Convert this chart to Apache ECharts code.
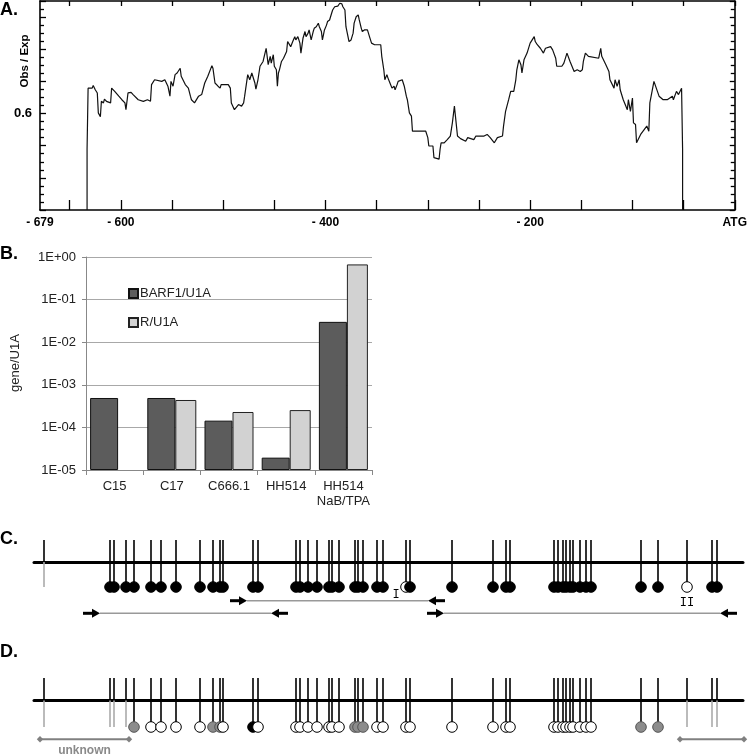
<!DOCTYPE html>
<html>
<head>
<meta charset="utf-8">
<script src="https://cdn.jsdelivr.net/npm/echarts@6/dist/echarts.min.js"></script>
<style>
html,body{margin:0;padding:0;background:#fff;}
#chart{width:750px;height:754px;}
</style>
</head>
<body>
<div id="chart"></div>
<script>
// ---------- Panel A: CpG Obs/Exp profile (position relative to ATG, value) ----------
const obsExpProfile = [
[-633,0.30],[-633,0.489],[-632,0.489],[-632,0.679],[-628,0.679],[-627,0.687],[-625,0.674],[-623,0.664],
[-622,0.602],[-620,0.590],[-619,0.638],[-617,0.633],[-616,0.645],[-614,0.638],[-610,0.633],[-609,0.679],
[-606,0.669],[-602,0.654],[-599,0.643],[-596,0.633],[-595,0.612],[-593,0.664],[-590,0.666],[-588,0.659],
[-583,0.643],[-578,0.638],[-574,0.643],[-571,0.638],[-570,0.690],[-567,0.705],[-560,0.700],[-557,0.705],
[-554,0.685],[-552,0.654],[-551,0.700],[-549,0.685],[-547,0.721],[-545,0.726],[-542,0.741],[-541,0.716],
[-537,0.690],[-534,0.679],[-532,0.654],[-531,0.643],[-528,0.633],[-524,0.654],[-521,0.659],[-518,0.695],
[-515,0.716],[-511,0.749],[-510,0.741],[-508,0.695],[-505,0.685],[-503,0.679],[-502,0.690],[-495,0.690],
[-493,0.679],[-492,0.633],[-489,0.612],[-485,0.628],[-482,0.623],[-480,0.633],[-479,0.654],[-476,0.721],
[-474,0.705],[-472,0.726],[-471,0.731],[-469,0.695],[-468,0.676],[-466,0.705],[-464,0.747],[-461,0.762],
[-460,0.757],[-458,0.803],[-456,0.752],[-454,0.778],[-453,0.757],[-451,0.783],[-450,0.747],[-448,0.736],
[-447,0.685],[-446,0.726],[-445,0.736],[-443,0.762],[-441,0.772],[-438,0.793],[-437,0.824],[-434,0.808],
[-432,0.824],[-430,0.839],[-429,0.829],[-427,0.839],[-425,0.819],[-424,0.788],[-422,0.834],[-420,0.855],
[-419,0.839],[-417,0.850],[-416,0.860],[-414,0.829],[-412,0.855],[-411,0.865],[-409,0.870],[-407,0.881],
[-406,0.870],[-404,0.855],[-403,0.829],[-401,0.860],[-399,0.875],[-398,0.886],[-396,0.891],[-394,0.912],
[-393,0.922],[-391,0.932],[-388,0.934],[-386,0.943],[-384,0.941],[-383,0.932],[-381,0.922],[-380,0.870],
[-378,0.839],[-377,0.824],[-375,0.829],[-373,0.850],[-372,0.881],[-370,0.901],[-368,0.907],[-367,0.891],
[-365,0.865],[-364,0.855],[-362,0.860],[-359,0.860],[-357,0.839],[-355,0.819],[-352,0.814],[-346,0.814],
[-345,0.778],[-343,0.736],[-342,0.705],[-340,0.721],[-339,0.711],[-337,0.695],[-335,0.679],[-333,0.685],
[-332,0.674],[-330,0.690],[-329,0.700],[-325,0.705],[-323,0.685],[-321,0.654],[-320,0.643],[-318,0.602],
[-316,0.592],[-315,0.545],[-302,0.545],[-300,0.525],[-299,0.499],[-295,0.499],[-294,0.463],[-289,0.458],
[-288,0.489],[-287,0.509],[-284,0.509],[-281,0.519],[-278,0.530],[-276,0.571],[-274,0.623],[-273,0.592],
[-271,0.530],[-268,0.522],[-263,0.514],[-261,0.525],[-255,0.519],[-253,0.530],[-245,0.530],[-242,0.535],
[-239,0.525],[-235,0.509],[-232,0.525],[-227,0.530],[-226,0.561],[-224,0.607],[-221,0.643],[-219,0.669],
[-216,0.669],[-214,0.705],[-213,0.736],[-211,0.767],[-209,0.752],[-208,0.726],[-206,0.767],[-203,0.788],
[-200,0.819],[-196,0.839],[-195,0.824],[-193,0.814],[-190,0.803],[-187,0.788],[-185,0.803],[-180,0.808],
[-178,0.798],[-177,0.803],[-175,0.772],[-174,0.747],[-169,0.747],[-167,0.757],[-164,0.788],[-161,0.762],
[-157,0.731],[-154,0.736],[-151,0.731],[-149,0.736],[-148,0.762],[-146,0.788],[-143,0.778],[-133,0.772],
[-131,0.803],[-130,0.778],[-126,0.752],[-123,0.731],[-122,0.705],[-118,0.679],[-117,0.705],[-115,0.685],
[-113,0.705],[-112,0.674],[-109,0.643],[-105,0.612],[-104,0.643],[-102,0.607],[-100,0.648],[-99,0.571],
[-97,0.566],[-96,0.509],[-92,0.535],[-86,0.561],[-84,0.545],[-83,0.633],[-79,0.700],[-78,0.695],
[-74,0.654],[-70,0.643],[-66,0.643],[-61,0.654],[-60,0.643],[-57,0.669],[-55,0.659],[-52,0.679],
[-51,0.489],[-51,0.30]
];
const aTickValues = [-650,-600,-550,-500,-450,-400,-350,-300,-250,-200,-150,-100,-50,0];
const aLabelValues = [-679,-600,-400,-200,0];

// ---------- Panel B: expression ----------
const cellLines = ['C15','C17','C666.1','HH514','HH514\nNaB/TPA'];
const barf1U1A = [4.9e-4, 4.9e-4, 1.44e-4, 1.95e-5, 3.0e-2];
const rU1A = [null, 4.4e-4, 2.3e-4, 2.55e-4, 0.67];

// ---------- Panels C / D: CpG sites ----------
const cpgSites = [10,76,80,92,100,117,127,142,166,179,186,189,219,224,262,266,274,283,295,298,305,
  321,324,329,343,349,372,376,418,459,472,476,520,524,529,532,536,539,546,552,557,607,624,653,678,683];
// M = methylated, U = unmethylated, P = partial, - = not analysed
const statesC = ['-','M','M','M','M','M','M','M','M','M','M','M','M','M','M','M','M','M','M','M','M',
  'M','M','M','M','M','U','M','M','M','M','M','M','M','M','M','M','M','M','M','M','M','M','U','M','M'];
const statesD = ['-','-','-','-','P','U','U','U','U','P','P','U','M','U','U','U','U','U','U','U','U',
  'P','P','P','U','U','U','U','U','U','U','U','U','U','U','U','U','U','U','U','U','P','P','-','-','-'];
const primerStart = [196, 49, 393];
const primerEnd = [411, 254, 703];
const primerRow = [0, 1, 1];
const siteLabelPos = [362, 653];
const siteLabelText = ['I', 'II'];
const unknownStart = [6, 646];
const unknownEnd = [95, 710];
const unknownText = ['unknown', ''];

const FONT = '"Liberation Sans", Arial, sans-serif';
const fillOf = {M:'#000', U:'#fff', P:'#8c8c8c'};
const strokeOf = {M:'#000', U:'#000', P:'#555'};

function siteRenderer(states, circleDy) {
  return function (params, api) {
    const i = params.dataIndex;
    const x = api.coord([api.value(0), 0])[0];
    const y0 = api.coord([0, 0])[1];
    const yTop = api.coord([0, 1])[1];
    const st = states[i];
    const ch = [{type:'line', shape:{x1:x,y1:yTop,x2:x,y2:y0}, style:{stroke:'#000', lineWidth:1.6}}];
    if (st === '-') {
      ch.push({type:'line', shape:{x1:x,y1:y0,x2:x,y2:y0+circleDy}, style:{stroke:'#aaa', lineWidth:1.6}});
    } else {
      ch.push({type:'line', shape:{x1:x,y1:y0,x2:x,y2:y0+circleDy}, style:{stroke:'#000', lineWidth:1.6}});
      ch.push({type:'circle', z2:10, shape:{cx:x, cy:y0+circleDy, r:5.3}, style:{fill:fillOf[st], stroke:strokeOf[st], lineWidth:1}});
    }
    return {type:'group', children:ch};
  };
}

function arrowHead(tipX, y, dir) {
  const shaftEnd = tipX - dir*17;
  return [
    {type:'line', z2:5, shape:{x1:shaftEnd, y1:y, x2:tipX - dir*5, y2:y}, style:{stroke:'#000', lineWidth:3}},
    {type:'polygon', z2:5, shape:{points:[[tipX,y],[tipX-dir*8,y-4.5],[tipX-dir*8,y+4.5]]}, style:{fill:'#000'}}
  ];
}

const chart = echarts.init(document.getElementById('chart'), null, {renderer:'canvas'});

const option = {
  animation: false,
  backgroundColor: '#fff',
  textStyle: {fontFamily: FONT},
  grid: [
    {left:40, top:1, width:698, height:209},
    {left:86, top:257, width:286, height:213},
    {left:34, top:540, width:709, height:44},
    {left:34, top:678, width:709, height:45}
  ],
  xAxis: [
    {gridIndex:0, type:'value', min:-679, max:0, position:'bottom',
      axisLine:{onZero:false, lineStyle:{color:'#000', width:1.6}},
      axisTick:{inside:true, length:10, customValues:aTickValues, lineStyle:{color:'#000', width:1.3}},
      axisLabel:{customValues:aLabelValues, margin:7, color:'#000', fontWeight:'bold', fontSize:12, fontFamily:FONT,
        formatter: v => v === 0 ? 'ATG' : '- ' + (-v)},
      splitLine:{show:false}},
    {gridIndex:0, type:'value', min:-679, max:0, position:'top',
      axisLine:{onZero:false, lineStyle:{color:'#000', width:1.6}},
      axisTick:{inside:true, length:5, customValues:aTickValues, lineStyle:{color:'#000', width:1.3}},
      axisLabel:{show:false}, splitLine:{show:false}},
    {gridIndex:1, type:'category', data:cellLines,
      axisLine:{lineStyle:{color:'#888', width:1}},
      axisTick:{show:true, length:5, lineStyle:{color:'#888'}},
      axisLabel:{interval:0, margin:9, color:'#222', fontSize:13, lineHeight:15, fontFamily:FONT}},
    {gridIndex:2, type:'value', min:0, max:709,
      axisLine:{onZero:true, lineStyle:{color:'#000', width:3}},
      axisTick:{show:false}, axisLabel:{show:false}, splitLine:{show:false}},
    {gridIndex:3, type:'value', min:0, max:709,
      axisLine:{onZero:true, lineStyle:{color:'#000', width:3}},
      axisTick:{show:false}, axisLabel:{show:false}, splitLine:{show:false}}
  ],
  yAxis: [
    {gridIndex:0, type:'value', min:0.3, max:0.95, interval:0.1, position:'left',
      axisLine:{show:true, onZero:false, lineStyle:{color:'#000', width:1.6}},
      axisTick:{inside:true, length:6, lineStyle:{color:'#000', width:1.3}},
      minorTick:{show:true, splitNumber:4, length:4, lineStyle:{color:'#000', width:1.3}},
      axisLabel:{margin:8, color:'#000', fontWeight:'bold', fontSize:13, fontFamily:FONT,
        formatter: v => Math.abs(v - 0.6) < 1e-6 ? '0.6' : ''},
      splitLine:{show:false}},
    {gridIndex:0, type:'value', min:0.3, max:0.95, interval:0.1, position:'right',
      axisLine:{show:true, onZero:false, lineStyle:{color:'#000', width:1.6}},
      axisTick:{inside:true, length:5, lineStyle:{color:'#000', width:1.3}},
      minorTick:{show:true, splitNumber:4, length:4, lineStyle:{color:'#000', width:1.3}},
      axisLabel:{show:false}, splitLine:{show:false}},
    {gridIndex:1, type:'log', logBase:10, min:1e-5, max:1, startValue:1e-5,
      axisLine:{show:true, lineStyle:{color:'#888', width:1}},
      axisTick:{show:true, length:4, lineStyle:{color:'#888'}},
      axisLabel:{margin:10, color:'#222', fontSize:13, fontFamily:FONT,
        formatter: v => { const e = Math.round(Math.log10(v)); return '1E' + (e >= 0 ? '+' : '-') + String(Math.abs(e)).padStart(2,'0'); }},
      splitLine:{show:true, lineStyle:{color:'#a8a8a8', width:1}}},
    {gridIndex:2, type:'value', min:-1, max:1, show:false},
    {gridIndex:3, type:'value', min:-1, max:1, show:false}
  ],
  legend: {
    left:123, top:282, orient:'vertical', itemWidth:9, itemHeight:9, itemGap:16,
    icon:'rect', textStyle:{fontSize:13, color:'#222', fontFamily:FONT, padding:[0,0,0,-3]},
    data:['BARF1/U1A','R/U1A']
  },
  graphic: [
    {type:'text', left:0, top:1, style:{text:'A.', font:'bold 18px ' + FONT, fill:'#000'}},
    {type:'text', left:0, top:245, style:{text:'B.', font:'bold 18px ' + FONT, fill:'#000'}},
    {type:'text', left:0, top:530, style:{text:'C.', font:'bold 18px ' + FONT, fill:'#000'}},
    {type:'text', left:0, top:643, style:{text:'D.', font:'bold 18px ' + FONT, fill:'#000'}},
    {type:'text', x:25, y:61, rotation:Math.PI/2, style:{text:'Obs / Exp', font:'bold 11.5px ' + FONT, fill:'#000', align:'center', verticalAlign:'middle'}},
    {type:'text', x:15, y:363, rotation:Math.PI/2, style:{text:'gene/U1A', font:'13px ' + FONT, fill:'#222', align:'center', verticalAlign:'middle'}}
  ],
  series: [
    {type:'line', xAxisIndex:0, yAxisIndex:0, data:obsExpProfile, showSymbol:false, symbol:'none',
      lineStyle:{color:'#111', width:1.2}, z:3},
    {name:'BARF1/U1A', type:'bar', xAxisIndex:2, yAxisIndex:2, data:barf1U1A, barWidth:28, barGap:'0%',
      itemStyle:{color:'#5c5c5c', borderColor:'#111', borderWidth:1}},
    {name:'R/U1A', type:'bar', xAxisIndex:2, yAxisIndex:2, data:rU1A, barWidth:21, barGap:'0%',
      itemStyle:{color:'#d2d2d2', borderColor:'#222', borderWidth:1}},
    {type:'custom', xAxisIndex:3, yAxisIndex:3, clip:false, data:cpgSites.map(p => [p]),
      renderItem: siteRenderer(statesC, 25)},
    {type:'custom', xAxisIndex:3, yAxisIndex:3, clip:false,
      data:primerStart.map((s,i) => [s, primerEnd[i], primerRow[i]]),
      renderItem: function (params, api) {
        const xs = api.coord([api.value(0), 0])[0];
        const xe = api.coord([api.value(1), 0])[0];
        const y = api.coord([0, 0])[1] + 38.7 + api.value(2) * 12.6;
        const ch = [{type:'line', shape:{x1:xs+17, y1:y, x2:xe-17, y2:y}, style:{stroke:'#999', lineWidth:1.5}}];
        return {type:'group', children: ch.concat(arrowHead(xs+17, y, 1), arrowHead(xe-17, y, -1))};
      }},
    {type:'custom', xAxisIndex:3, yAxisIndex:3, clip:false,
      data:siteLabelPos.map((p,i) => [p, i]),
      renderItem: function (params, api) {
        const i = params.dataIndex;
        const x = api.coord([api.value(0), 0])[0];
        const y = api.coord([0, 0])[1] + (i === 0 ? 33 : 41);
        return {type:'text', z2:20, x:x, y:y, style:{text:siteLabelText[i], font:'12px "Liberation Mono", "DejaVu Sans Mono", monospace', fill:'#000', align:'center', verticalAlign:'middle'}};
      }},
    {type:'custom', xAxisIndex:4, yAxisIndex:4, clip:false, data:cpgSites.map(p => [p]),
      renderItem: siteRenderer(statesD, 26.5)},
    {type:'custom', xAxisIndex:4, yAxisIndex:4, clip:false,
      data:unknownStart.map((s,i) => [s, unknownEnd[i]]),
      renderItem: function (params, api) {
        const i = params.dataIndex;
        const xs = api.coord([api.value(0), 0])[0];
        const xe = api.coord([api.value(1), 0])[0];
        const y = api.coord([0, 0])[1] + 38.8;
        const d = 3.2;
        const ch = [
          {type:'line', shape:{x1:xs, y1:y, x2:xe, y2:y}, style:{stroke:'#808080', lineWidth:2}},
          {type:'polygon', shape:{points:[[xs-d,y],[xs,y-d],[xs+d,y],[xs,y+d]]}, style:{fill:'#808080'}},
          {type:'polygon', shape:{points:[[xe-d,y],[xe,y-d],[xe+d,y],[xe,y+d]]}, style:{fill:'#808080'}}
        ];
        if (unknownText[i]) ch.push({type:'text', x:(xs+xe)/2, y:y+11, style:{text:unknownText[i], font:'bold 12px ' + FONT, fill:'#8a8a8a', align:'center', verticalAlign:'middle'}});
        return {type:'group', children:ch};
      }}
  ]
};
chart.setOption(option);
</script>
</body>
</html>
